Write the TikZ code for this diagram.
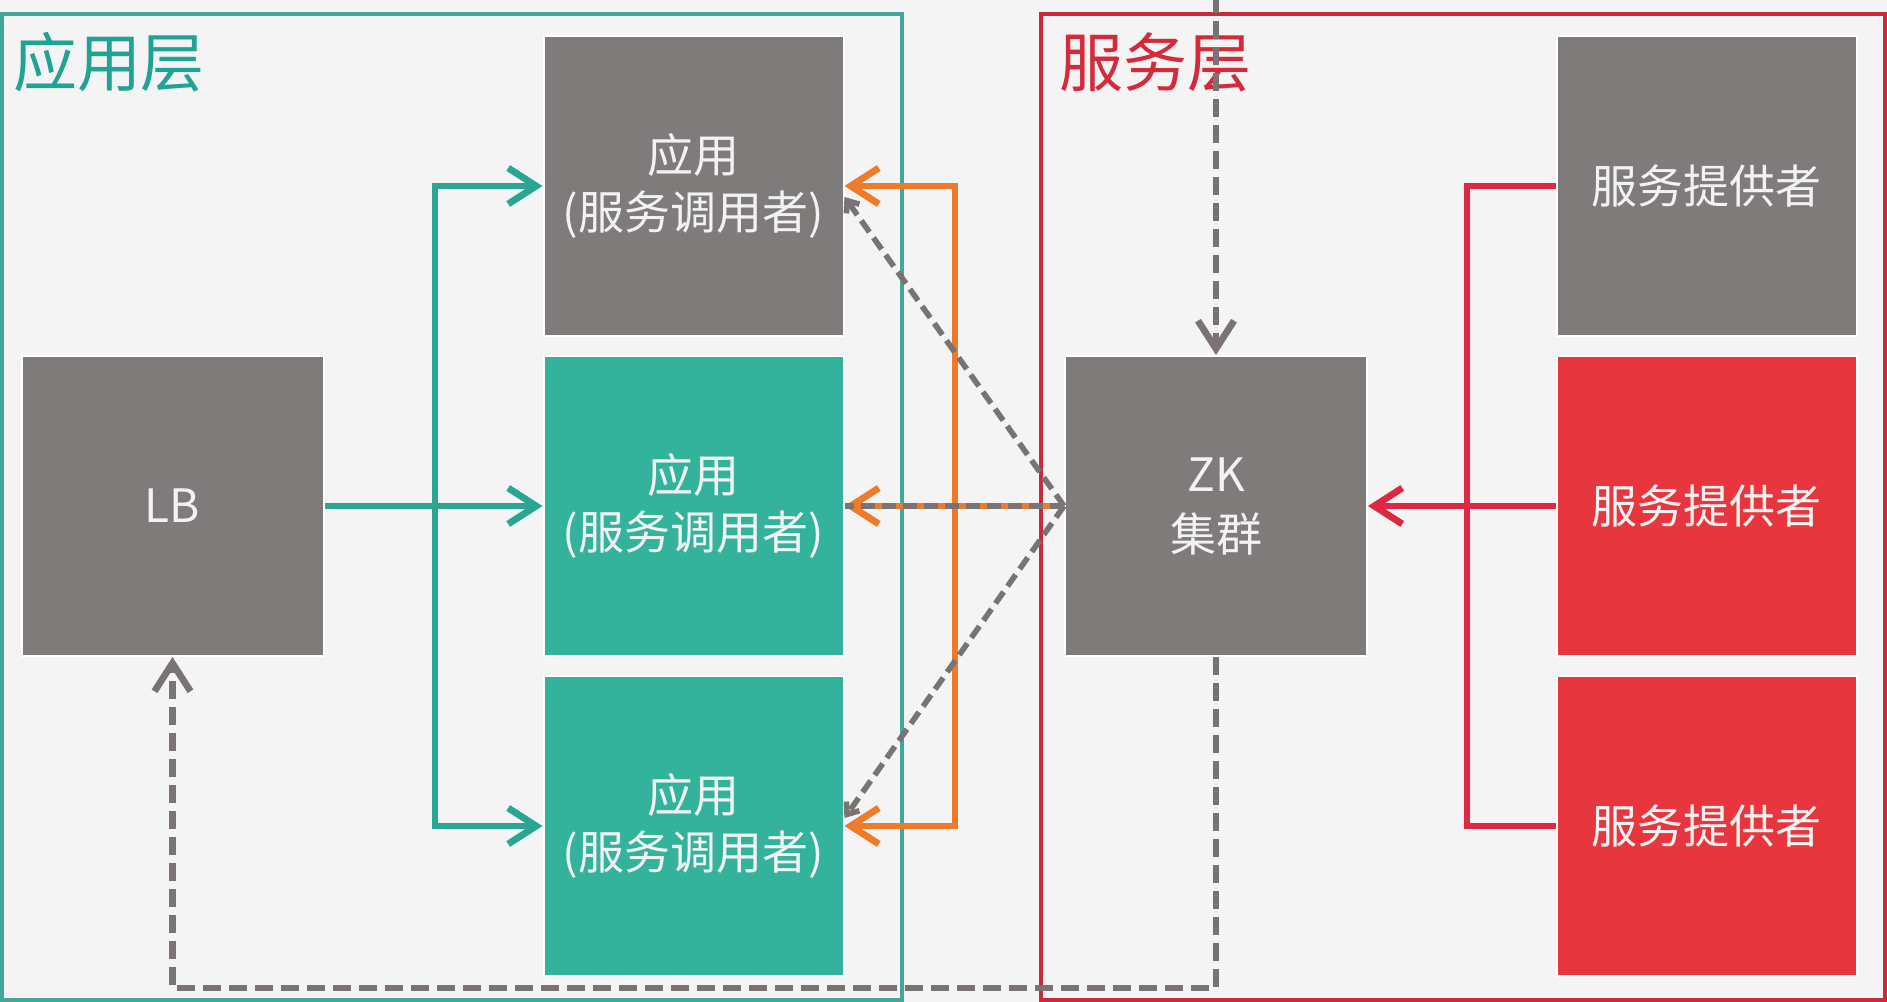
\documentclass[tikz,border=0pt]{standalone}
\usepackage{fontspec}
\setmainfont{Noto Sans CJK SC}
\usetikzlibrary{arrows.meta}
\definecolor{bg}{HTML}{F4F4F4}
\definecolor{boxgray}{HTML}{7F7B7B}
\definecolor{boxteal}{HTML}{33B39C}
\definecolor{boxred}{HTML}{E8363F}
\definecolor{frameteal}{HTML}{3FA898}
\definecolor{framered}{HTML}{CC2A3A}
\definecolor{titleteal}{HTML}{1FA393}
\definecolor{titlered}{HTML}{D42A3A}
\definecolor{lineteal}{HTML}{2AA591}
\definecolor{lineorange}{HTML}{EE7A2A}
\definecolor{linered}{HTML}{DC2840}
\definecolor{dashgray}{HTML}{7A7373}
\definecolor{boxtext}{HTML}{F2F2F2}
\begin{document}
\begin{tikzpicture}[x=0.5pt,y=-0.5pt,
  box/.style={minimum width=150pt, minimum height=150pt, inner sep=0pt,
    text=boxtext, font=\fontsize{23}{28.5}\selectfont, align=center,
    draw=white, line width=1pt},
  graybox/.style={box, fill=boxgray},
  tealbox/.style={box, fill=boxteal},
  redbox/.style={box, fill=boxred},
  arr/.style={-{Straight Barb[length=14pt,width=18pt]}},
  arrboth/.style={{Straight Barb[length=14pt,width=18pt]}-{Straight Barb[length=14pt,width=18pt]}},
  conn/.style={line width=3.4pt},
  dashline/.style={draw=dashgray, line width=3.4pt, dash pattern=on 9pt off 4pt},
  diagline/.style={draw=dashgray, line width=2.8pt, dash pattern=on 7pt off 3.5pt},
  smallarr/.style={-{Straight Barb[length=5pt,width=8pt]}},
  title/.style={font=\fontsize{32}{32}\selectfont}
]
\fill[bg] (0,0) rectangle (1887,1002);
\useasboundingbox (0,0) rectangle (1887,1002);

% layer frames
\draw[frameteal, line width=2pt] (2,14) rectangle (902,1000);
\draw[framered, line width=2pt] (1041,14) rectangle (1885,1000);
\node[title, text=titleteal] (t1) at (109,62) {应用层};
\node[title, text=titlered] (t2) at (1155,62) {服务层};

% boxes
\node[graybox] (app1) at (693.5,186) {应用\\(服务调用者)};
\node[tealbox] (app2) at (693.5,506) {应用\\(服务调用者)};
\node[tealbox] (app3) at (693.5,826) {应用\\(服务调用者)};
\node[graybox, minimum width=151pt] (lb) at (172.5,506) {LB};
\node[graybox, minimum width=151pt, font=\fontsize{23}{30}\selectfont] (zk) at (1216,506) {ZK\\集群};
\node[graybox] (p1) at (1706.5,186) {服务提供者};
\node[redbox] (p2) at (1706.5,506) {服务提供者};
\node[redbox] (p3) at (1706.5,826) {服务提供者};

% junctions and free ends
\coordinate (tj) at (435,506);
\coordinate (oj) at (955,506);
\coordinate (rj) at (1467,506);
\coordinate (topin) at (1216,-5);
\coordinate (bot) at (0,988);

% teal: LB to applications
\draw[conn, lineteal, arr] (lb.east) -- (app2.west);
\draw[conn, lineteal, arrboth] (app1.west) -| (tj) |- (app3.west);

% orange: ZK to applications
\draw[conn, lineorange, arrboth] (app1.east) -| (oj) |- (app3.east);
\draw[conn, lineorange, arr] (zk.west) -- (app2.east);

% gray dashed: ZK to applications
\draw[diagline, smallarr] (zk.west) -- ([yshift=-5.5pt]app1.east);
\draw[diagline, smallarr] (zk.west) -- ([yshift=4pt]app3.east);
\draw[diagline] (zk.west) -- (app2.east);

% red: providers to ZK
\draw[conn, linered] (p1.west) -| (rj) |- (p3.west);
\draw[conn, linered, arr] (p2.west) -- (zk.east);

% gray dashed: outside to ZK, ZK to LB
\draw[dashline, arr] (topin) -- (zk.north);
\draw[dashline, arr] (zk.south) -- (zk.south |- bot) -| (lb.south);
\end{tikzpicture}
\end{document}
